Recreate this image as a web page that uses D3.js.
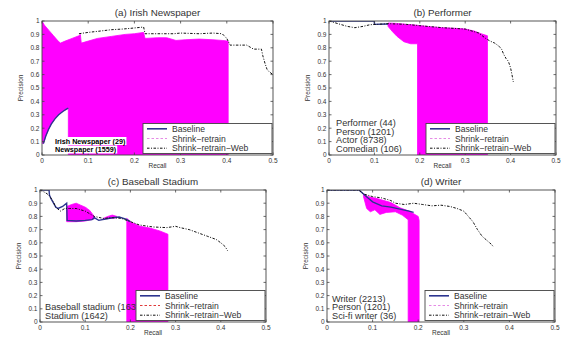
<!DOCTYPE html>
<html>
<head>
<meta charset="utf-8">
<script src="https://cdn.jsdelivr.net/npm/d3@7/dist/d3.min.js"></script>
<style>
  body { margin: 0; background: #fff; }
  svg { display: block; font-family: "Liberation Sans", Arial, sans-serif; }
</style>
</head>
<body>
<svg id="fig" width="565" height="339"></svg>
<script>
// ---- data (recall, precision) ----
const xTicks = [0, 0.1, 0.2, 0.3, 0.4, 0.5];
const xTickLabels = ['0', '0.1', '0.2', '0.3', '0.4', '0.5'];
const yTicks = [0, 0.1, 0.2, 0.3, 0.4, 0.5, 0.6, 0.7, 0.8, 0.9, 1];
const yTickLabels = ['0', '0.1', '0.2', '0.3', '0.4', '0.5', '0.6', '0.7', '0.8', '0.9', '1'];
const seriesNames = ['Baseline', 'Shrink\u2212retrain', 'Shrink\u2212retrain\u2212Web'];
const panelTitles = ['(a) Irish Newspaper', '(b) Performer', '(c) Baseball Stadium', '(d) Writer'];

const annotA = ['Irish Newspaper (29)', 'Newspaper (1559)'];
const annotB = ['Performer (44)', 'Person (1201)', 'Actor (8738)', 'Comedian (106)'];
const annotC = ['Baseball stadium (163)', 'Stadium (1642)'];
const annotD = ['Writer (2213)', 'Person (1201)', 'Sci-fi writer (36)'];

// (a) Irish Newspaper
const aBaseline = [[0.003, 0.085], [0.008, 0.14], [0.014, 0.19], [0.02, 0.23], [0.028, 0.27], [0.036, 0.3], [0.045, 0.325], [0.052, 0.34], [0.057, 0.35]];
const aShrinkTop = [[0, 1], [0.005, 0.97], [0.015, 0.93], [0.025, 0.89], [0.035, 0.85], [0.04, 0.835], [0.05, 0.85], [0.065, 0.87], [0.08, 0.89], [0.083, 0.9], [0.085, 0.835], [0.1, 0.85], [0.12, 0.87], [0.15, 0.885], [0.18, 0.9], [0.2, 0.905], [0.22, 0.915], [0.223, 0.87], [0.25, 0.875], [0.27, 0.875], [0.29, 0.855], [0.31, 0.86], [0.34, 0.865], [0.37, 0.86], [0.39, 0.855], [0.403, 0.85], [0.403, 0]];
const aShrinkBottom = [[0, 0.09], [0.003, 0.085], [0.008, 0.14], [0.014, 0.19], [0.02, 0.23], [0.028, 0.27], [0.036, 0.3], [0.045, 0.325], [0.052, 0.34], [0.057, 0.35], [0.057, 0]];
const aWeb = [[0.08, 0.905], [0.1, 0.915], [0.126, 0.925], [0.15, 0.935], [0.175, 0.94], [0.2, 0.948], [0.22, 0.955], [0.223, 0.905], [0.25, 0.905], [0.285, 0.905], [0.3, 0.91], [0.34, 0.905], [0.37, 0.91], [0.39, 0.905], [0.4, 0.87], [0.407, 0.82], [0.42, 0.82], [0.443, 0.82], [0.458, 0.79], [0.475, 0.79], [0.478, 0.74], [0.483, 0.68], [0.487, 0.64], [0.492, 0.62], [0.5, 0.6]];

// (b) Performer
const bBaseline = [[0, 1], [0.1, 1], [0.1, 0.975], [0.13, 0.978]];
const bShrinkTop = [[0.13, 0.985], [0.15, 0.982], [0.17, 0.975], [0.19, 0.97], [0.22, 0.958], [0.25, 0.95], [0.28, 0.945], [0.3, 0.94], [0.32, 0.925], [0.335, 0.905], [0.349, 0.89], [0.349, 0]];
const bShrinkBottom = [[0.13, 0.96], [0.14, 0.92], [0.15, 0.885], [0.165, 0.845], [0.18, 0.83], [0.195, 0.83], [0.195, 0]];
const bWeb = [[0, 1], [0.02, 0.98], [0.04, 0.96], [0.057, 0.95], [0.075, 0.96], [0.09, 0.972], [0.11, 0.976], [0.13, 0.98], [0.17, 0.975], [0.2, 0.965], [0.25, 0.95], [0.3, 0.94], [0.33, 0.91], [0.345, 0.87], [0.355, 0.85], [0.365, 0.835], [0.375, 0.81], [0.38, 0.79], [0.385, 0.75], [0.39, 0.72], [0.395, 0.7], [0.4, 0.65], [0.403, 0.6], [0.406, 0.545]];

// (c) Baseball Stadium
const cBaseline = [[0, 1], [0.02, 1], [0.021, 0.96], [0.025, 0.93], [0.03, 0.9], [0.035, 0.87], [0.04, 0.86], [0.05, 0.875], [0.059, 0.9], [0.06, 0.77], [0.08, 0.765], [0.1, 0.77], [0.115, 0.775], [0.12, 0.79], [0.13, 0.77], [0.145, 0.78], [0.16, 0.79], [0.175, 0.795], [0.19, 0.78], [0.2, 0.76]];
const cShrinkTop1 = [[0.059, 0.875], [0.07, 0.89], [0.08, 0.9], [0.09, 0.885], [0.1, 0.87], [0.11, 0.845], [0.12, 0.8]];
const cShrinkBottom1 = [[0.059, 0.76], [0.08, 0.76], [0.1, 0.765], [0.12, 0.78]];
const cShrinkTop2 = [[0.14, 0.785], [0.15, 0.8], [0.16, 0.81], [0.17, 0.8]];
const cShrinkBottom2 = [[0.14, 0.78], [0.155, 0.785], [0.17, 0.79]];
const cShrinkTop3 = [[0.192, 0.785], [0.2, 0.76], [0.206, 0.75], [0.221, 0.725], [0.243, 0.712], [0.265, 0.69], [0.283, 0.665], [0.283, 0]];
const cShrinkBottom3 = [[0.192, 0]];
const cWeb = [[0, 1], [0.012, 0.98], [0.02, 0.96], [0.028, 0.92], [0.035, 0.87], [0.045, 0.84], [0.055, 0.86], [0.065, 0.86], [0.08, 0.86], [0.1, 0.84], [0.12, 0.8], [0.14, 0.785], [0.16, 0.79], [0.18, 0.785], [0.2, 0.76], [0.22, 0.735], [0.25, 0.72], [0.28, 0.715], [0.3, 0.725], [0.31, 0.715], [0.33, 0.7], [0.35, 0.675], [0.37, 0.65], [0.39, 0.625], [0.4, 0.6], [0.41, 0.57], [0.415, 0.54]];

// (d) Writer
const dBaseline = [[0, 1], [0.07, 1], [0.08, 0.97], [0.09, 0.94], [0.1, 0.91], [0.12, 0.88], [0.14, 0.87], [0.16, 0.855], [0.18, 0.84], [0.19, 0.83]];
const dShrinkTop = [[0.08, 0.97], [0.09, 0.95], [0.11, 0.935], [0.14, 0.905], [0.16, 0.865], [0.18, 0.84], [0.2, 0.8], [0.202, 0.77], [0.202, 0]];
const dShrinkBottom = [[0.08, 0.95], [0.087, 0.86], [0.095, 0.835], [0.105, 0.85], [0.116, 0.815], [0.13, 0.83], [0.15, 0.835], [0.165, 0.81], [0.178, 0.775], [0.178, 0]];
const dWeb = [[0, 1], [0.07, 1], [0.08, 0.97], [0.1, 0.95], [0.12, 0.94], [0.14, 0.92], [0.15, 0.9], [0.17, 0.89], [0.19, 0.9], [0.21, 0.89], [0.23, 0.88], [0.25, 0.885], [0.27, 0.875], [0.285, 0.86], [0.3, 0.84], [0.31, 0.8], [0.32, 0.76], [0.33, 0.7], [0.34, 0.65], [0.35, 0.62], [0.36, 0.59], [0.365, 0.57]];

// ---- layout ----
const panels = [
  { box: [42, 21, 231, 134], title: panelTitles[0], baseline: aBaseline,
    shrink: [[aShrinkTop, aShrinkBottom]], web: aWeb, notes: annotA, noteBold: true,
    noteX: 13, retrainColor: '#e58be5' },
  { box: [329, 21, 227, 134], title: panelTitles[1], baseline: bBaseline,
    shrink: [[bShrinkTop, bShrinkBottom]], web: bWeb, notes: annotB, noteBold: false,
    noteX: 7, retrainColor: '#e58be5' },
  { box: [40, 190, 226, 132], title: panelTitles[2], baseline: cBaseline,
    shrink: [[cShrinkTop1, cShrinkBottom1], [cShrinkTop2, cShrinkBottom2], [cShrinkTop3, cShrinkBottom3]],
    web: cWeb, notes: annotC, noteBold: false, noteX: 5, retrainColor: '#e03a3a' },
  { box: [327, 190, 228, 132], title: panelTitles[3], baseline: dBaseline,
    shrink: [[dShrinkTop, dShrinkBottom]], web: dWeb, notes: annotD, noteBold: false,
    noteX: 5, retrainColor: '#e58be5' }
];

const svg = d3.select('#fig');
const ink = '#333';
const baseBlue = '#2c3590';

function drawPanel(p) {
  const [left, top, w, h] = p.box;
  const x = d3.scaleLinear().domain([0, 0.5]).range([left, left + w]);
  const y = d3.scaleLinear().domain([0, 1]).range([top + h, top]);
  const g = svg.append('g');

  const clipId = 'clip' + left + '_' + top;
  g.append('clipPath').attr('id', clipId)
    .append('rect').attr('x', left).attr('y', top).attr('width', w).attr('height', h);

  const line = d3.line().x(d => x(d[0])).y(d => y(d[1]));
  const plot = g.append('g').attr('clip-path', `url(#${clipId})`);

  // shrink-retrain: dense zig-zag, drawn as filled region
  p.shrink.forEach(([topEdge, bottomEdge]) => {
    const poly = topEdge.concat(bottomEdge.slice().reverse());
    plot.append('path')
      .attr('d', line(poly) + 'Z')
      .attr('fill', '#ff00ff')
      .attr('stroke', '#ff00ff')
      .attr('stroke-width', 0.8);
  });

  plot.append('path')
    .attr('d', line(p.baseline))
    .attr('fill', 'none')
    .attr('stroke', baseBlue)
    .attr('stroke-width', 1.4);

  plot.append('path')
    .attr('d', line(p.web))
    .attr('fill', 'none')
    .attr('stroke', '#111')
    .attr('stroke-width', 1)
    .attr('stroke-dasharray', '2.5,1.5,1,1.5');

  // box
  g.append('rect')
    .attr('x', left).attr('y', top).attr('width', w).attr('height', h)
    .attr('fill', 'none').attr('stroke', '#444').attr('stroke-width', 0.9);

  // ticks (inside, all four sides)
  const tl = 2.5;
  xTicks.forEach((t, i) => {
    g.append('line').attr('x1', x(t)).attr('x2', x(t)).attr('y1', top + h).attr('y2', top + h - tl)
      .attr('stroke', '#444').attr('stroke-width', 0.8);
    g.append('line').attr('x1', x(t)).attr('x2', x(t)).attr('y1', top).attr('y2', top + tl)
      .attr('stroke', '#444').attr('stroke-width', 0.8);
    g.append('text').attr('x', x(t)).attr('y', top + h + 7.5)
      .attr('text-anchor', 'middle').attr('font-size', 6.5).attr('fill', ink)
      .text(xTickLabels[i]);
  });
  yTicks.forEach((t, i) => {
    g.append('line').attr('x1', left).attr('x2', left + tl).attr('y1', y(t)).attr('y2', y(t))
      .attr('stroke', '#444').attr('stroke-width', 0.8);
    g.append('line').attr('x1', left + w).attr('x2', left + w - tl).attr('y1', y(t)).attr('y2', y(t))
      .attr('stroke', '#444').attr('stroke-width', 0.8);
    g.append('text').attr('x', left - 2.5).attr('y', y(t) + 2.3)
      .attr('text-anchor', 'end').attr('font-size', 6.5).attr('fill', ink)
      .text(yTickLabels[i]);
  });

  // labels
  g.append('text').attr('x', left + w / 2).attr('y', top - 5)
    .attr('text-anchor', 'middle').attr('font-size', 9.8).attr('fill', ink).text(p.title);
  g.append('text').attr('x', left + w / 2).attr('y', top + h + 13)
    .attr('text-anchor', 'middle').attr('font-size', 6.5).attr('fill', ink).text('Recall');
  g.append('text')
    .attr('transform', `translate(${left - 19},${top + h / 2}) rotate(-90)`)
    .attr('text-anchor', 'middle').attr('font-size', 6.5).attr('fill', ink).text('Precision');

  // annotation text in the lower left
  const n = p.notes.length;
  const step = p.noteBold ? 8.5 : 8.6;
  p.notes.forEach((s, i) => {
    const ty = top + h - 3 - (n - 1 - i) * step;
    const t = g.append('text').attr('x', left + p.noteX).attr('y', ty)
      .attr('font-size', p.noteBold ? 7.2 : 9.2)
      .attr('font-weight', p.noteBold ? 'bold' : 'normal')
      .attr('fill', p.noteBold ? '#000' : ink).text(s);
    if (p.noteBold) {
      const bb = t.node().getBBox();
      g.insert('rect', () => t.node())
        .attr('x', bb.x - 0.5).attr('y', bb.y + 0.5).attr('width', bb.width + 1).attr('height', bb.height - 1)
        .attr('fill', '#fff');
    }
  });

  // legend
  const lw = 129, lh = 30;
  const lx = left + w - lw - 1, ly = top + h - lh - 1.5;
  const lg = g.append('g');
  lg.append('rect').attr('x', lx).attr('y', ly).attr('width', lw).attr('height', lh)
    .attr('fill', '#fff').attr('stroke', '#444').attr('stroke-width', 0.9);
  const styles = [
    { stroke: baseBlue, dash: null, width: 1.6 },
    { stroke: p.retrainColor, dash: '2.5,2', width: 1.1 },
    { stroke: '#111', dash: '2.5,1.5,1,1.5', width: 1 }
  ];
  seriesNames.forEach((s, i) => {
    const ry = ly + 5.3 + i * 9.7;
    lg.append('line').attr('x1', lx + 4).attr('x2', lx + 24).attr('y1', ry).attr('y2', ry)
      .attr('stroke', styles[i].stroke).attr('stroke-width', styles[i].width)
      .attr('stroke-dasharray', styles[i].dash);
    lg.append('text').attr('x', lx + 29).attr('y', ry + 3.1)
      .attr('font-size', 8.6).attr('fill', ink).text(s);
  });
}

panels.forEach(drawPanel);
</script>
</body>
</html>
